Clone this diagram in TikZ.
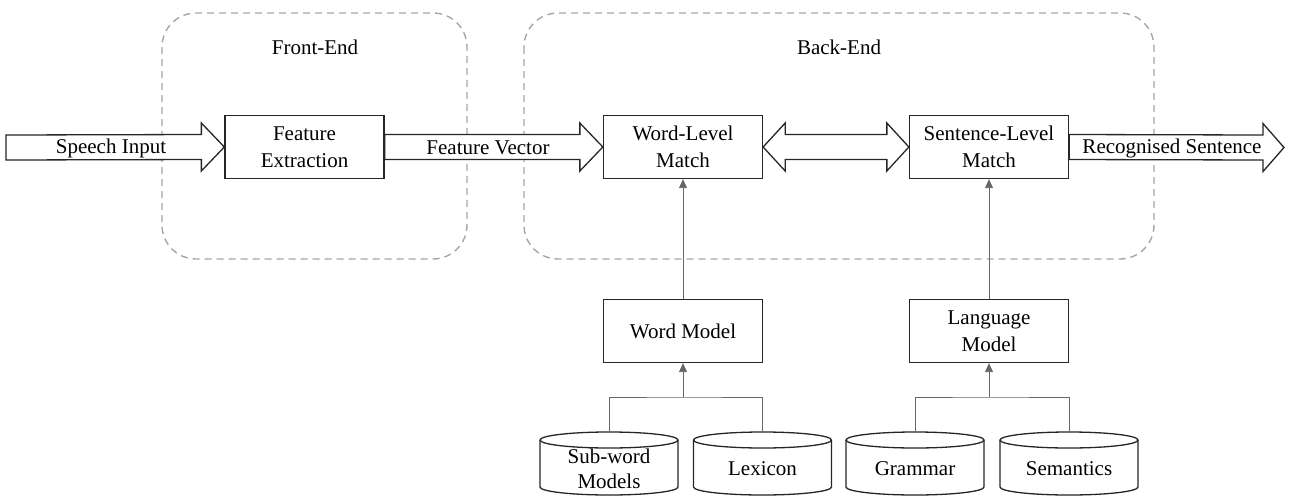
\documentclass[tikz,border=0pt]{standalone}
\usepackage{fontspec}
\setmainfont{Liberation Serif}
\usetikzlibrary{calc,arrows.meta}
\begin{document}
\begin{tikzpicture}[x=1pt,y=1pt,
  font=\fontsize{21}{27}\selectfont,
  region/.style={draw=black!35, line width=1.4pt, dash pattern=on 7pt off 5pt, rounded corners=34pt},
  procbox/.style={draw=black!85, line width=1.3pt, minimum width=159pt, minimum height=63pt, align=center, inner sep=0pt},
  blockarr/.style={draw=black!85, line width=1.3pt, fill=white, line join=miter},
  conn/.style={draw=black!60, line width=0.9pt},
  connarr/.style={conn, -{Triangle[width=8pt,length=9pt]}},
  dbshape/.style={draw=black!85, line width=1.3pt},
  lbl/.style={inner sep=0pt}
]
\useasboundingbox (0,0) rectangle (1291,-496);

% regions
\draw[region] (162,-13) rectangle (467,-259);
\draw[region] (524,-13) rectangle (1154,-259);
\node[lbl] (felbl) at (315,-47) {Front-End};
\node[lbl] (belbl) at (839,-47) {Back-End};

% main boxes
\node[procbox] (fe) at (304.5,-147) {Feature\\Extraction};
\node[procbox] (wl) at (683,-147) {Word-Level\\Match};
\node[procbox] (sl) at (989,-147) {Sentence-Level\\Match};
\node[procbox] (wm) at (683,-331) {Word Model};
\node[procbox] (lm) at (989,-331) {Language\\Model};

% block arrows
\coordinate (sin) at (6,-147.5);
\coordinate (sout) at (1284,-147.5);
\draw[blockarr] (sin) ++(0,12.5) -- ($(fe.west)+(-23,12.5)$) -- ($(fe.west)+(-23,24)$) -- (fe.west)
  -- ($(fe.west)+(-23,-24)$) -- ($(fe.west)+(-23,-12.5)$) -- ($(sin)+(0,-12.5)$) -- cycle;
\draw[blockarr] ($(fe.east)+(0,12.5)$) -- ($(wl.west)+(-23,12.5)$) -- ($(wl.west)+(-23,24)$) -- (wl.west)
  -- ($(wl.west)+(-23,-24)$) -- ($(wl.west)+(-23,-12.5)$) -- ($(fe.east)+(0,-12.5)$) -- cycle;
\draw[blockarr] (wl.east) -- ($(wl.east)+(22,24)$) -- ($(wl.east)+(22,12.5)$) -- ($(sl.west)+(-22,12.5)$)
  -- ($(sl.west)+(-22,24)$) -- (sl.west) -- ($(sl.west)+(-22,-24)$) -- ($(sl.west)+(-22,-12.5)$)
  -- ($(wl.east)+(22,-12.5)$) -- ($(wl.east)+(22,-24)$) -- cycle;
\draw[blockarr] ($(sl.east)+(0,12.5)$) -- ($(sout)+(-21,12.5)$) -- ($(sout)+(-21,24)$) -- (sout)
  -- ($(sout)+(-21,-24)$) -- ($(sout)+(-21,-12.5)$) -- ($(sl.east)+(0,-12.5)$) -- cycle;
\node[lbl] (t1) at (111,-148) {Speech Input};
\node[lbl] (t2) at (488,-148) {Feature Vector};
\node[lbl] (t3) at (1172,-148) {Recognised Sentence};

% databases
\foreach \n/\cx/\txt in {sw/609/{Sub-word\\Models}, lx/762.5/Lexicon, gr/915/Grammar, se/1069/Semantics}{
  \draw[dbshape, fill=white] (\cx-69,-440) -- (\cx-69,-487) arc[start angle=180,end angle=360,x radius=69,y radius=8] -- (\cx+69,-440);
  \draw[dbshape] (\cx,-440) ellipse[x radius=69,y radius=8];
  \coordinate (\n) at (\cx,-432);
  \node[lbl, align=center, font=\fontsize{21}{25}\selectfont] (\n txt) at (\cx,-469) {\txt};
}

% connectors
\coordinate (wj) at (683,-397);
\coordinate (lj) at (989,-397);
\draw[conn] (sw) |- (wj) -| (lx);
\draw[conn] (gr) |- (lj) -| (se);
\draw[connarr] (wj) -- (wm.south);
\draw[connarr] (lj) -- (lm.south);
\draw[connarr] (wm.north) -- (wl.south);
\draw[connarr] (lm.north) -- (sl.south);
\end{tikzpicture}
\end{document}
